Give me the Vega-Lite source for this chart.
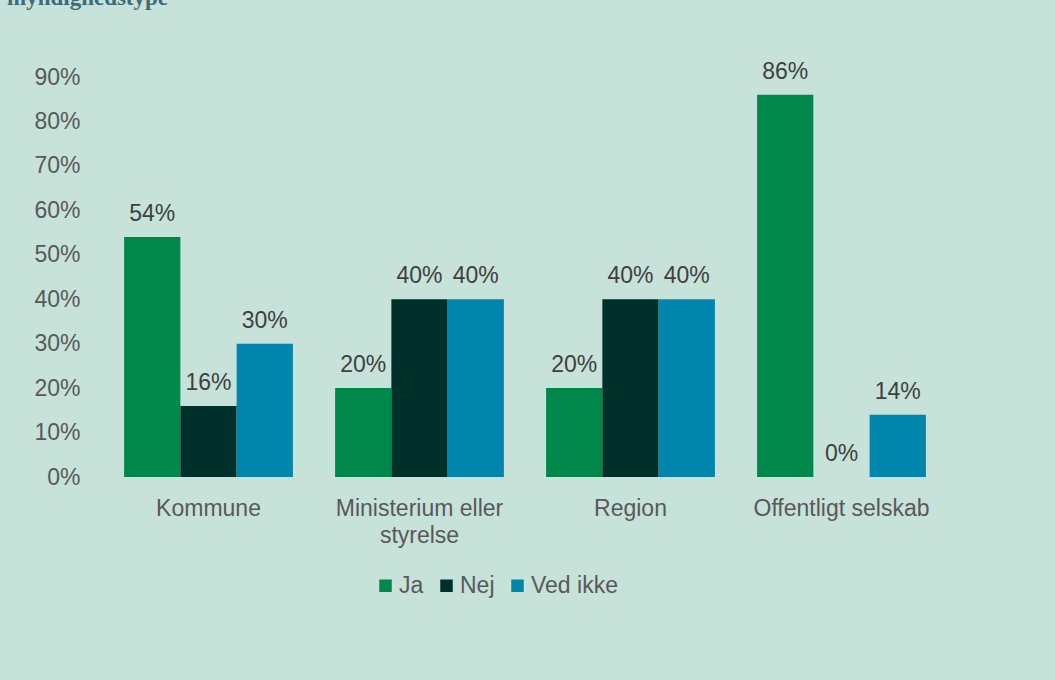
{
  "$schema": "https://vega.github.io/schema/vega-lite/v6.json",
  "width": 844,
  "height": 400,
  "autosize": {"type": "none"},
  "padding": {"left": 103, "top": 77, "right": 108, "bottom": 203},
  "background": "#c6e2d9",
  "title": {
    "text": "myndighedstype",
    "font": "Liberation Serif",
    "fontWeight": "bold",
    "fontSize": 23,
    "color": "#3e6b76",
    "anchor": "start",
    "frame": "group",
    "baseline": "alphabetic",
    "offset": 0,
    "dx": -96,
    "dy": -33
  },
  "data": {
    "values": [
      {"type": "Kommune", "svar": "Ja", "pct": 0.54},
      {"type": "Kommune", "svar": "Nej", "pct": 0.16},
      {"type": "Kommune", "svar": "Ved ikke", "pct": 0.30},
      {"type": "Ministerium eller styrelse", "svar": "Ja", "pct": 0.20},
      {"type": "Ministerium eller styrelse", "svar": "Nej", "pct": 0.40},
      {"type": "Ministerium eller styrelse", "svar": "Ved ikke", "pct": 0.40},
      {"type": "Region", "svar": "Ja", "pct": 0.20},
      {"type": "Region", "svar": "Nej", "pct": 0.40},
      {"type": "Region", "svar": "Ved ikke", "pct": 0.40},
      {"type": "Offentligt selskab", "svar": "Ja", "pct": 0.86},
      {"type": "Offentligt selskab", "svar": "Nej", "pct": 0.0},
      {"type": "Offentligt selskab", "svar": "Ved ikke", "pct": 0.14}
    ]
  },
  "encoding": {
    "x": {
      "field": "type",
      "type": "nominal",
      "sort": ["Kommune", "Ministerium eller styrelse", "Region", "Offentligt selskab"],
      "scale": {"paddingInner": 0.2, "paddingOuter": 0.1},
      "axis": {
        "title": null,
        "labelAngle": 0,
        "ticks": false,
        "domainColor": "#d9d9d9",
        "domainWidth": 1.5,
        "labelFont": "Liberation Sans",
        "labelFontSize": 23,
        "labelColor": "#595959",
        "labelPadding": 20,
        "labelLineHeight": 27,
        "labelLimit": 400,
        "labelExpr": "datum.label == 'Ministerium eller styrelse' ? ['Ministerium eller', 'styrelse'] : datum.label"
      }
    },
    "xOffset": {
      "field": "svar",
      "type": "nominal",
      "sort": ["Ja", "Nej", "Ved ikke"],
      "scale": {"paddingInner": 0, "paddingOuter": 0}
    },
    "y": {
      "field": "pct",
      "type": "quantitative",
      "scale": {"domain": [0, 0.9]},
      "axis": {
        "title": null,
        "values": [0, 0.1, 0.2, 0.3, 0.4, 0.5, 0.6, 0.7, 0.8, 0.9],
        "format": ".0%",
        "domain": false,
        "ticks": false,
        "grid": false,
        "labelFont": "Liberation Sans",
        "labelFontSize": 23,
        "labelColor": "#595959",
        "labelPadding": 23
      }
    }
  },
  "layer": [
    {
      "mark": {"type": "bar"},
      "encoding": {
        "color": {
          "field": "svar",
          "type": "nominal",
          "sort": ["Ja", "Nej", "Ved ikke"],
          "scale": {"domain": ["Ja", "Nej", "Ved ikke"], "range": ["#00874a", "#00302a", "#0085ad"]},
          "legend": {
            "title": null,
            "orient": "none",
            "legendX": 271,
            "legendY": 497,
            "direction": "horizontal",
            "symbolType": "square",
            "symbolSize": 156,
            "symbolStrokeWidth": 0,
            "labelFont": "Liberation Sans",
            "labelFontSize": 23,
            "labelColor": "#595959",
            "labelOffset": 2,
            "columnPadding": 11
          }
        }
      }
    },
    {
      "mark": {"type": "text", "baseline": "alphabetic", "dy": -16, "font": "Liberation Sans", "fontSize": 23, "color": "#404040"},
      "encoding": {"text": {"field": "pct", "type": "quantitative", "format": ".0%"}}
    }
  ],
  "config": {"view": {"stroke": null}}
}
